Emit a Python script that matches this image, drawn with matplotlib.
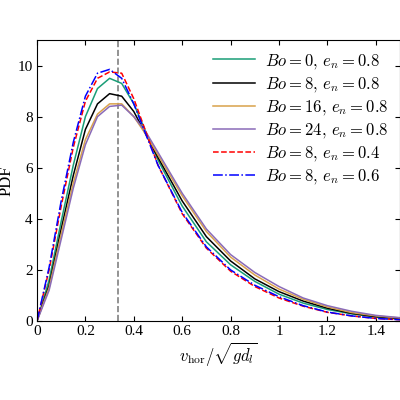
import matplotlib
matplotlib.use("Agg")
import matplotlib.pyplot as plt

plt.rcParams['font.family'] = 'Liberation Serif'
plt.rcParams['mathtext.fontset'] = 'cm'

x = [0,0.05,0.1,0.15,0.2,0.25,0.3,0.35,0.4,0.45,0.5,0.6,0.7,0.8,0.9,1.0,1.1,1.2,1.3,1.4,1.5]
bo0_e08 = [0,1.6,3.9,6.1,8.0,9.1,9.5,9.3,8.5,7.4,6.3,4.5,3.1,2.2,1.55,1.05,0.7,0.45,0.28,0.15,0.08]
bo8_e08 = [0,1.4,3.6,5.7,7.5,8.5,8.9,8.8,8.2,7.3,6.4,4.7,3.3,2.35,1.65,1.15,0.78,0.5,0.3,0.17,0.1]
bo16_e08 = [0,1.3,3.4,5.4,7.1,8.1,8.5,8.5,8.0,7.3,6.5,4.9,3.5,2.5,1.8,1.25,0.85,0.55,0.33,0.2,0.12]
bo24_e08 = [0,1.2,3.2,5.2,6.9,8.0,8.4,8.45,8.0,7.4,6.6,5.0,3.6,2.6,1.9,1.35,0.9,0.6,0.38,0.22,0.13]
bo8_e04 = [0,2.0,4.5,6.8,8.6,9.5,9.75,9.7,8.7,7.4,6.1,4.2,2.85,1.95,1.35,0.9,0.58,0.34,0.2,0.1,0.05]
bo8_e06 = [0,2.1,4.7,7.0,8.8,9.7,9.85,9.5,8.5,7.3,6.1,4.25,2.9,2.0,1.4,0.95,0.6,0.35,0.2,0.1,0.05]
vline = 1/3

fig = plt.figure(figsize=(4,4), dpi=100)
ax = fig.add_axes([0.0925, 0.1975, 0.9075, 0.7025])
ax.axvline(vline, color='grey', ls='--', lw=1.2)
ax.plot(x, bo0_e08, color='#1a9e77', lw=1.1, label=r'$Bo=0,\, e_n=0.8$')
ax.plot(x, bo8_e08, color='black', lw=1.1, label=r'$Bo=8,\, e_n=0.8$')
ax.plot(x, bo16_e08, color='#d9a24a', lw=1.1, label=r'$Bo=16,\, e_n=0.8$')
ax.plot(x, bo24_e08, color='#8a6bb8', lw=1.1, label=r'$Bo=24,\, e_n=0.8$')
ax.plot(x, bo8_e04, color='red', ls='--', lw=1.1, label=r'$Bo=8,\, e_n=0.4$')
ax.plot(x, bo8_e06, color='blue', ls='-.', lw=1.1, label=r'$Bo=8,\, e_n=0.6$')
ax.set_xlim(0, 1.5)
ax.set_ylim(0, 11)
ax.set_xticks([0,0.2,0.4,0.6,0.8,1,1.2,1.4])
ax.set_xticklabels(['0','0.2','0.4','0.6','0.8','1','1.2','1.4'])
ax.set_yticks([0,2,4,6,8,10])
ax.tick_params(direction='in', top=True, right=True, labelsize=11, pad=3)
ax.set_xlabel(r'$v_{\rm hor}/\sqrt{g d_l}$', fontsize=12, labelpad=1)
ax.set_ylabel('PDF', fontsize=12, labelpad=2)
ax.legend(loc='upper right', frameon=False, fontsize=12, handlelength=2.5, labelspacing=0.25, borderaxespad=0.3, handletextpad=0.6)
fig.savefig('out.png', dpi=100)
